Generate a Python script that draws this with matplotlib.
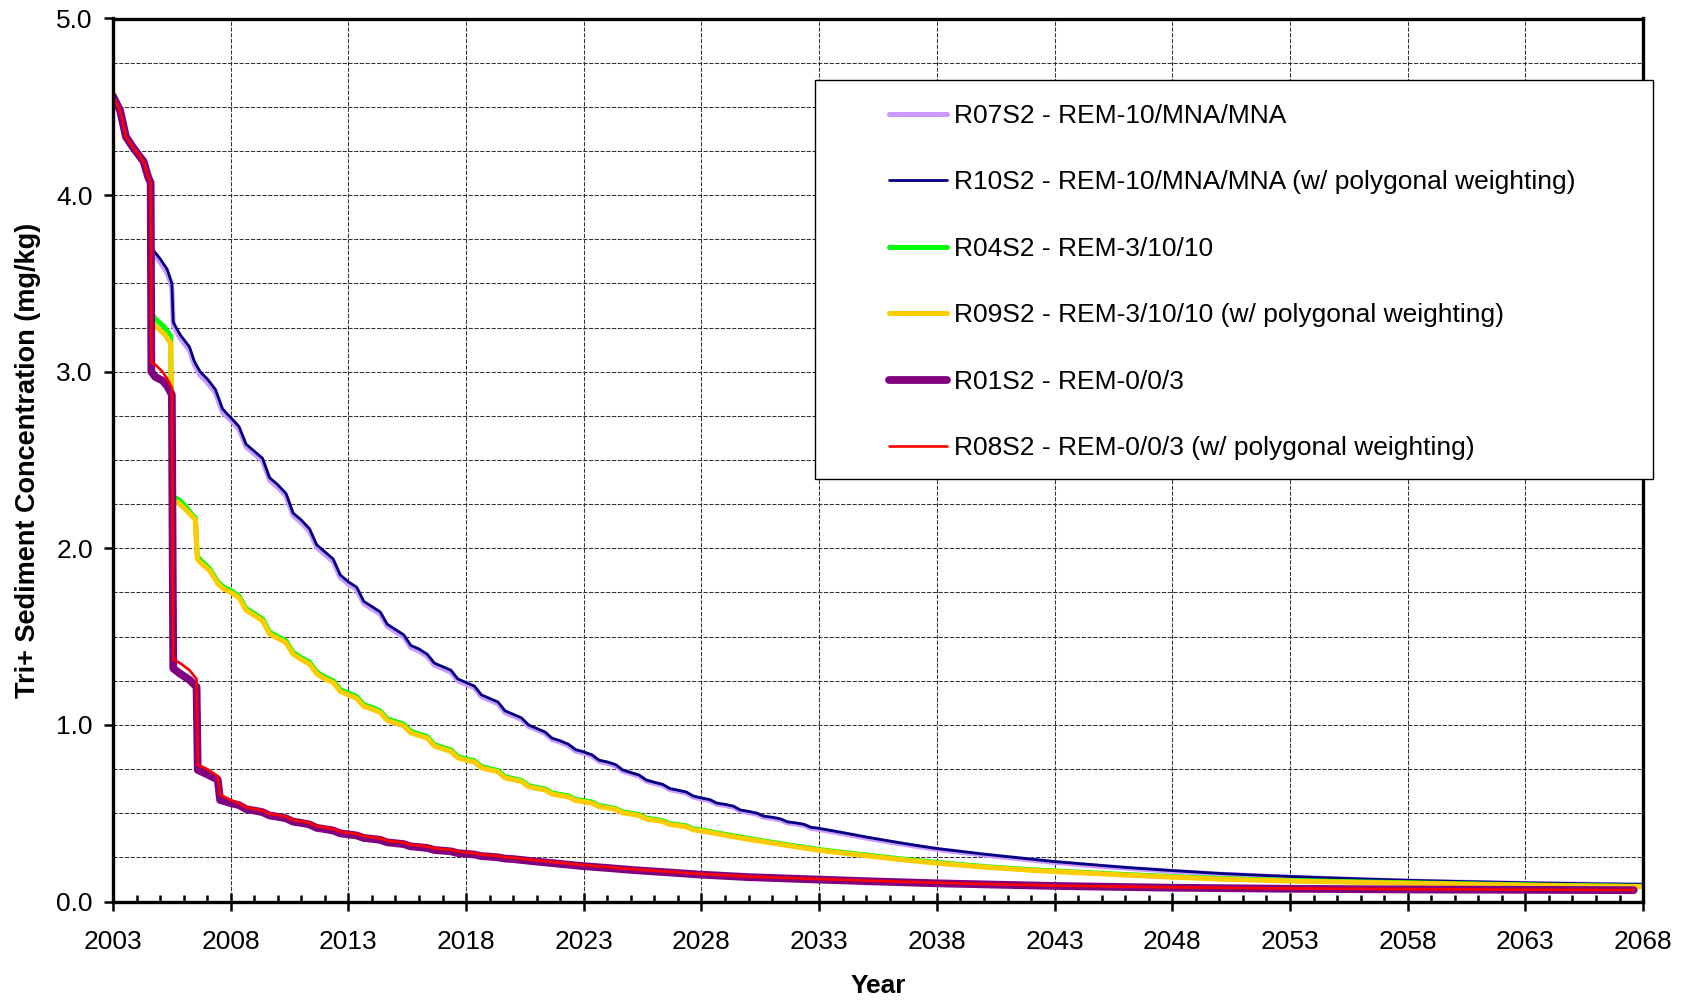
import matplotlib
matplotlib.use('Agg')
import matplotlib.pyplot as plt
from matplotlib.lines import Line2D
from matplotlib.patches import Rectangle
import numpy as np

plt.rcParams['font.family'] = ['Liberation Sans', 'DejaVu Sans']

# ---------------- data ----------------
# shared initial decline (all scenarios identical until the first dredging step)
early_years = [2003.0, 2003.3, 2003.55, 2003.85, 2004.3, 2004.5, 2004.6]
early_vals = [4.56, 4.48, 4.33, 4.27, 4.19, 4.10, 4.07]

# yearly stair-step sample offsets (start, mid-year, after seasonal drop)
stair_offsets = (0.0, 0.35, 0.65)

# ---- REM-10/MNA/MNA (R10S2 navy, R07S2 lavender) ----
r10_pre_years = [2004.64, 2005.0, 2005.3, 2005.5, 2005.56, 2005.85, 2006.25,
                 2006.45, 2006.7, 2007.0, 2007.35, 2007.65]
r10_pre_vals = [3.70, 3.64, 3.58, 3.50, 3.28, 3.21, 3.14, 3.06, 3.00, 2.96, 2.90, 2.79]
r07_pre_vals = [3.68, 3.62, 3.56, 3.48, 3.26, 3.19, 3.12, 3.04, 2.98, 2.94, 2.88, 2.77]
r10_stair_start, r10_stair_end = 2008, 2033
r10_stairs = [(2.74, 2.69, 2.59), (2.55, 2.51, 2.40), (2.36, 2.31, 2.20), (2.16, 2.11, 2.02),
              (1.98, 1.94, 1.85), (1.81, 1.78, 1.70), (1.67, 1.64, 1.57), (1.54, 1.51, 1.45),
              (1.43, 1.40, 1.35), (1.33, 1.31, 1.26), (1.24, 1.22, 1.17), (1.15, 1.13, 1.08),
              (1.06, 1.04, 1.00), (0.98, 0.96, 0.925), (0.91, 0.89, 0.86), (0.847, 0.83, 0.80),
              (0.79, 0.775, 0.745), (0.73, 0.716, 0.688), (0.675, 0.663, 0.64), (0.63, 0.62, 0.597),
              (0.586, 0.577, 0.557), (0.55, 0.54, 0.518), (0.51, 0.50, 0.483), (0.477, 0.468, 0.451),
              (0.445, 0.437, 0.42)]
r07_stairs = [(2.725, 2.675, 2.575), (2.535, 2.495, 2.385), (2.345, 2.295, 2.185), (2.145, 2.095, 2.005),
              (1.965, 1.925, 1.835), (1.797, 1.767, 1.687), (1.657, 1.627, 1.557), (1.528, 1.498, 1.438),
              (1.418, 1.388, 1.338), (1.319, 1.299, 1.249), (1.23, 1.21, 1.16), (1.14, 1.12, 1.07),
              (1.051, 1.031, 0.991), (0.972, 0.952, 0.917), (0.902, 0.882, 0.852), (0.84, 0.823, 0.793),
              (0.783, 0.768, 0.738), (0.724, 0.71, 0.682), (0.669, 0.657, 0.634), (0.624, 0.614, 0.591),
              (0.58, 0.571, 0.551), (0.544, 0.534, 0.512), (0.504, 0.494, 0.477), (0.471, 0.462, 0.445),
              (0.439, 0.431, 0.414)]
r10_tail_years = [2033, 2034, 2035, 2036, 2037, 2038, 2039, 2040, 2041, 2042, 2043, 2044, 2045,
                  2046, 2047, 2048, 2050, 2052, 2054, 2056, 2058, 2060, 2063, 2066, 2068]
r10_tail_vals = [0.414, 0.39, 0.365, 0.342, 0.32, 0.30, 0.284, 0.268, 0.254, 0.24, 0.226, 0.215,
                 0.204, 0.193, 0.184, 0.175, 0.159, 0.147, 0.137, 0.128, 0.12, 0.114, 0.106, 0.10, 0.097]
r07_tail_vals = [0.408, 0.384, 0.359, 0.336, 0.315, 0.295, 0.279, 0.263, 0.249, 0.235, 0.221, 0.21,
                 0.199, 0.189, 0.18, 0.171, 0.155, 0.143, 0.133, 0.124, 0.116, 0.11, 0.102, 0.097, 0.094]

# ---- REM-3/10/10 (R04S2 green, R09S2 yellow) ----
r09_pre_years = [2004.64, 2004.8, 2005.2, 2005.45, 2005.52, 2005.75, 2006.0, 2006.3, 2006.5,
                 2006.58, 2006.7, 2007.1, 2007.45, 2007.7]
r09_pre_vals = [3.28, 3.26, 3.21, 3.16, 2.27, 2.26, 2.23, 2.19, 2.16, 1.94, 1.92, 1.875, 1.80, 1.77]
r04_pre_vals = [3.33, 3.30, 3.25, 3.20, 2.29, 2.28, 2.25, 2.20, 2.17, 1.955, 1.935, 1.885, 1.81, 1.78]
r09_stair_start, r09_stair_end = 2008, 2028
r09_stairs = [(1.75, 1.72, 1.65), (1.62, 1.59, 1.515), (1.49, 1.465, 1.40), (1.37, 1.345, 1.29),
              (1.26, 1.24, 1.19), (1.17, 1.15, 1.105), (1.09, 1.07, 1.025), (1.01, 0.995, 0.955),
              (0.94, 0.925, 0.88), (0.865, 0.85, 0.813), (0.80, 0.79, 0.757), (0.745, 0.735, 0.70),
              (0.69, 0.68, 0.65), (0.64, 0.632, 0.608), (0.60, 0.592, 0.572), (0.565, 0.557, 0.537),
              (0.53, 0.522, 0.502), (0.495, 0.487, 0.467), (0.46, 0.453, 0.436), (0.43, 0.423, 0.406)]
r04_stairs = [(1.76, 1.73, 1.66), (1.63, 1.60, 1.525), (1.50, 1.475, 1.41), (1.38, 1.355, 1.30),
              (1.27, 1.25, 1.20), (1.18, 1.16, 1.115), (1.099, 1.079, 1.034), (1.019, 1.004, 0.964),
              (0.948, 0.933, 0.888), (0.873, 0.858, 0.821), (0.807, 0.797, 0.764), (0.752, 0.742, 0.707),
              (0.696, 0.686, 0.656), (0.646, 0.638, 0.614), (0.606, 0.598, 0.578), (0.571, 0.563, 0.543),
              (0.535, 0.527, 0.507), (0.50, 0.492, 0.472), (0.465, 0.458, 0.441), (0.435, 0.428, 0.411)]
r09_tail_years = [2028, 2029, 2030, 2031, 2032, 2033, 2034, 2035, 2036, 2037, 2038, 2040, 2042,
                  2044, 2046, 2048, 2050, 2053, 2056, 2060, 2064, 2068]
r09_tail_vals = [0.40, 0.375, 0.352, 0.331, 0.31, 0.29, 0.274, 0.259, 0.244, 0.23, 0.217, 0.195,
                 0.177, 0.163, 0.15, 0.138, 0.127, 0.116, 0.108, 0.099, 0.09, 0.084]
r04_tail_vals = [0.405, 0.38, 0.357, 0.335, 0.314, 0.294, 0.278, 0.263, 0.248, 0.234, 0.221, 0.198,
                 0.18, 0.166, 0.153, 0.141, 0.13, 0.119, 0.111, 0.101, 0.092, 0.086]

# ---- REM-0/0/3 (R01S2 purple, R08S2 red) ----
r01_pre_years = [2004.63, 2004.8, 2005.1, 2005.3, 2005.5, 2005.56, 2005.85, 2006.25, 2006.55,
                 2006.6, 2007.0, 2007.45, 2007.55]
r01_pre_vals = [3.00, 2.97, 2.95, 2.92, 2.87, 1.32, 1.29, 1.255, 1.215, 0.745, 0.72, 0.69, 0.575]
r08_pre_vals = [3.05, 3.04, 3.00, 2.96, 2.91, 1.37, 1.35, 1.31, 1.26, 0.775, 0.75, 0.71, 0.605]
r01_stair_start, r01_stair_end = 2008, 2020
r01_stairs = [(0.557, 0.546, 0.523), (0.515, 0.506, 0.487), (0.48, 0.471, 0.452), (0.445, 0.436, 0.417),
              (0.41, 0.402, 0.386), (0.38, 0.374, 0.36), (0.355, 0.349, 0.335), (0.33, 0.325, 0.312),
              (0.308, 0.303, 0.292), (0.288, 0.284, 0.274), (0.27, 0.266, 0.257), (0.254, 0.25, 0.243)]
r08_stairs = [(0.575, 0.556, 0.533), (0.524, 0.515, 0.496), (0.489, 0.48, 0.461), (0.454, 0.445, 0.426),
              (0.419, 0.411, 0.395), (0.389, 0.383, 0.369), (0.364, 0.358, 0.344), (0.339, 0.334, 0.321),
              (0.317, 0.312, 0.301), (0.297, 0.293, 0.283), (0.278, 0.274, 0.265), (0.262, 0.258, 0.251)]
r01_tail_years = [2020, 2021, 2022, 2023, 2024, 2025, 2026, 2027, 2028, 2030, 2033, 2035, 2038,
                  2040, 2043, 2045, 2048, 2053, 2058, 2063, 2067.6]
r01_tail_vals = [0.24, 0.226, 0.213, 0.20, 0.19, 0.179, 0.17, 0.161, 0.152, 0.138, 0.124, 0.115,
                 0.103, 0.097, 0.088, 0.084, 0.078, 0.072, 0.068, 0.066, 0.064]
r08_tail_vals = [0.247, 0.233, 0.219, 0.206, 0.195, 0.184, 0.174, 0.165, 0.156, 0.141, 0.127, 0.118,
                 0.106, 0.099, 0.09, 0.086, 0.08, 0.074, 0.07, 0.067, 0.065]

labels = ["R07S2 - REM-10/MNA/MNA",
          "R10S2 - REM-10/MNA/MNA (w/ polygonal weighting)",
          "R04S2 - REM-3/10/10",
          "R09S2 - REM-3/10/10 (w/ polygonal weighting)",
          "R01S2 - REM-0/0/3",
          "R08S2 - REM-0/0/3 (w/ polygonal weighting)"]
colors = ["#CC99FF", "#000080", "#00FF00", "#FFCC00", "#800080", "#FF0000"]
widths = [3.6, 2.0, 3.6, 3.6, 5.6, 1.9]

x_ticks = list(range(2003, 2069, 5))
y_ticks = [0.0, 1.0, 2.0, 3.0, 4.0, 5.0]


def stair_years(start, end):
    return [y + f for y in range(start, end) for f in stair_offsets]


def flat(triples):
    return [v for t in triples for v in t]


def build(pre_years, pre_vals, s0, s1, stairs, tail_years, tail_vals):
    xs = early_years + pre_years + stair_years(s0, s1) + tail_years
    ys = early_vals + pre_vals + flat(stairs) + tail_vals
    return xs, ys


series = [
    build(r10_pre_years, r07_pre_vals, r10_stair_start, r10_stair_end, r07_stairs, r10_tail_years, r07_tail_vals),
    build(r10_pre_years, r10_pre_vals, r10_stair_start, r10_stair_end, r10_stairs, r10_tail_years, r10_tail_vals),
    build(r09_pre_years, r04_pre_vals, r09_stair_start, r09_stair_end, r04_stairs, r09_tail_years, r04_tail_vals),
    build(r09_pre_years, r09_pre_vals, r09_stair_start, r09_stair_end, r09_stairs, r09_tail_years, r09_tail_vals),
    build(r01_pre_years, r01_pre_vals, r01_stair_start, r01_stair_end, r01_stairs, r01_tail_years, r01_tail_vals),
    build(r01_pre_years, r08_pre_vals, r01_stair_start, r01_stair_end, r08_stairs, r01_tail_years, r08_tail_vals),
]

# ---------------- figure ----------------
FS = 19
fig = plt.figure(figsize=(16.84, 10), dpi=100)
ax = fig.add_axes([0.0671, 0.0985, 0.9086, 0.883])

for (xs, ys), c, w in zip(series, colors, widths):
    ax.plot(xs, ys, color=c, lw=w, solid_capstyle='round', solid_joinstyle='round', zorder=3)

ax.set_xlim(2003, 2068)
ax.set_ylim(0, 5)
ax.set_xticks(x_ticks)
ax.set_xticklabels([str(t) for t in x_ticks])
ax.set_xticks(list(range(2003, 2069)), minor=True)
ax.set_yticks(y_ticks)
ax.set_yticklabels([f"{t:.1f}" for t in y_ticks])
ax.set_yticks(list(np.arange(0, 5.01, 0.25)), minor=True)

ax.tick_params(axis='x', which='major', direction='inout', length=13, width=1.8,
               labelsize=FS, pad=14)
ax.tick_params(axis='x', which='minor', direction='in', length=5, width=1.8)
ax.tick_params(axis='y', which='major', direction='out', length=6.5, width=1.8,
               labelsize=FS, pad=8)
ax.tick_params(axis='y', which='minor', length=0)

ax.set_axisbelow(True)
grid_kw = dict(color='#333333', lw=0.75, linestyle=(0, (4, 1.5)))
ax.xaxis.grid(True, which='major', **grid_kw)
ax.yaxis.grid(True, which='both', **grid_kw)

for s in ax.spines.values():
    s.set_linewidth(2.4)
    s.set_zorder(4)

ax.set_xlabel('Year', fontsize=FS, fontweight='bold')
ax.xaxis.set_label_coords(0.5, -0.082)
ax.set_ylabel('Tri+ Sediment Concentration (mg/kg)', fontsize=19.5, fontweight='bold')
ax.yaxis.set_label_coords(-0.047, 0.5)

# legend box
rect = Rectangle((0.484, 0.521), 0.4976, 0.399, transform=fig.transFigure,
                 facecolor='white', edgecolor='black', lw=1.0, zorder=4)
fig.add_artist(rect)
handles = [Line2D([0], [0], color=c, lw=w, solid_capstyle='round') for c, w in zip(colors, widths)]
leg = fig.legend(handles, labels, loc='upper left', bbox_to_anchor=(0.5279, 0.896),
                 bbox_transform=fig.transFigure, frameon=False, borderpad=0,
                 labelspacing=1.61, handlelength=2.2, handletextpad=0.27,
                 fontsize=FS, borderaxespad=0)
leg.set_zorder(5)

fig.savefig('out.png', dpi=100)
